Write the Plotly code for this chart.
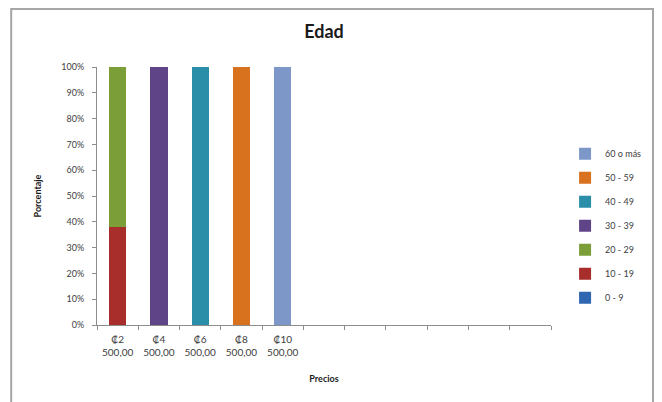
import plotly.graph_objects as go

# Price categories shown on the x axis (11 slots, last six empty)
precios = ["₡2<br>500,00", "₡4<br>500,00", "₡6<br>500,00", "₡8<br>500,00", "₡10<br>500,00"]
n_slots = 11

# Age groups and share (%) of each price category
grupos = ["0 - 9", "10 - 19", "20 - 29", "30 - 39", "40 - 49", "50 - 59", "60 o más"]
valores = {
    "0 - 9":    [0, 0, 0, 0, 0],
    "10 - 19":  [38, 0, 0, 0, 0],
    "20 - 29":  [62, 0, 0, 0, 0],
    "30 - 39":  [0, 100, 0, 0, 0],
    "40 - 49":  [0, 0, 100, 0, 0],
    "50 - 59":  [0, 0, 0, 100, 0],
    "60 o más": [0, 0, 0, 0, 100],
}
colores = {
    "0 - 9": "#2f67b0",
    "10 - 19": "#a82e2c",
    "20 - 29": "#7c9e38",
    "30 - 39": "#5f4587",
    "40 - 49": "#2a8ea8",
    "50 - 59": "#d8721f",
    "60 o más": "#7d98c8",
}

FONT = "Lato"
fig = go.Figure()
xs = list(range(len(precios)))
for i, g in enumerate(grupos):
    fig.add_trace(go.Bar(
        x=xs, y=valores[g], name=g, legendgroup=g,
        legendrank=1000 - i,
        marker=dict(color=colores[g], line=dict(width=0)),
        width=0.42,
    ))

fig.update_layout(
    barmode="stack",
    width=662, height=402,
    margin=dict(l=97, r=111, t=67, b=77),
    paper_bgcolor="white", plot_bgcolor="white",
    font=dict(family=FONT, size=9, color="#404040"),
    title=dict(text="<b>Edad</b>", x=0.5, xanchor="center", y=0.92, yanchor="middle",
               xref="paper", font=dict(family=FONT, size=18, color="#1a1a1a")),
    legend=dict(x=1.031, y=0.72, xanchor="left", yanchor="top",
                traceorder="grouped", font=dict(size=9, color="#404040"),
                itemwidth=30, tracegroupgap=5,
                bgcolor="rgba(0,0,0,0)"),
    showlegend=True,
    bargap=0,
)
fig.update_xaxes(
    range=[-0.5, n_slots - 0.5],
    tickvals=xs, ticktext=precios, ticks="",
    showgrid=False, zeroline=False,
    showline=True, linecolor="#8c8c8c", linewidth=1,
    minor=dict(tick0=-0.5, dtick=1, ticks="outside", ticklen=4, tickcolor="#8c8c8c", showgrid=False),
    ticklabelstandoff=5,
    tickfont=dict(size=10, color="#404040"),
    title=dict(text="<b>Precios</b>", font=dict(size=9, color="#1a1a1a"), standoff=18),
)
fig.update_yaxes(
    range=[0, 100], dtick=10, ticksuffix="%",
    showgrid=False, zeroline=False,
    showline=True, linecolor="#8c8c8c", linewidth=1,
    ticks="outside", ticklen=4, tickcolor="#8c8c8c",
    ticklabelstandoff=6,
    tickfont=dict(size=9, color="#404040"),
    title=dict(text="<b>Porcentaje</b>", font=dict(size=9, color="#1a1a1a"), standoff=18),
)
# outer chart frame
fig.add_shape(type="rect", xref="paper", yref="paper",
              x0=-0.189, x1=1.2247, y0=-0.35, y1=1.2248,
              line=dict(color="#a6a6a6", width=2), fillcolor="rgba(0,0,0,0)", layer="below")

fig.write_html("out.html")
